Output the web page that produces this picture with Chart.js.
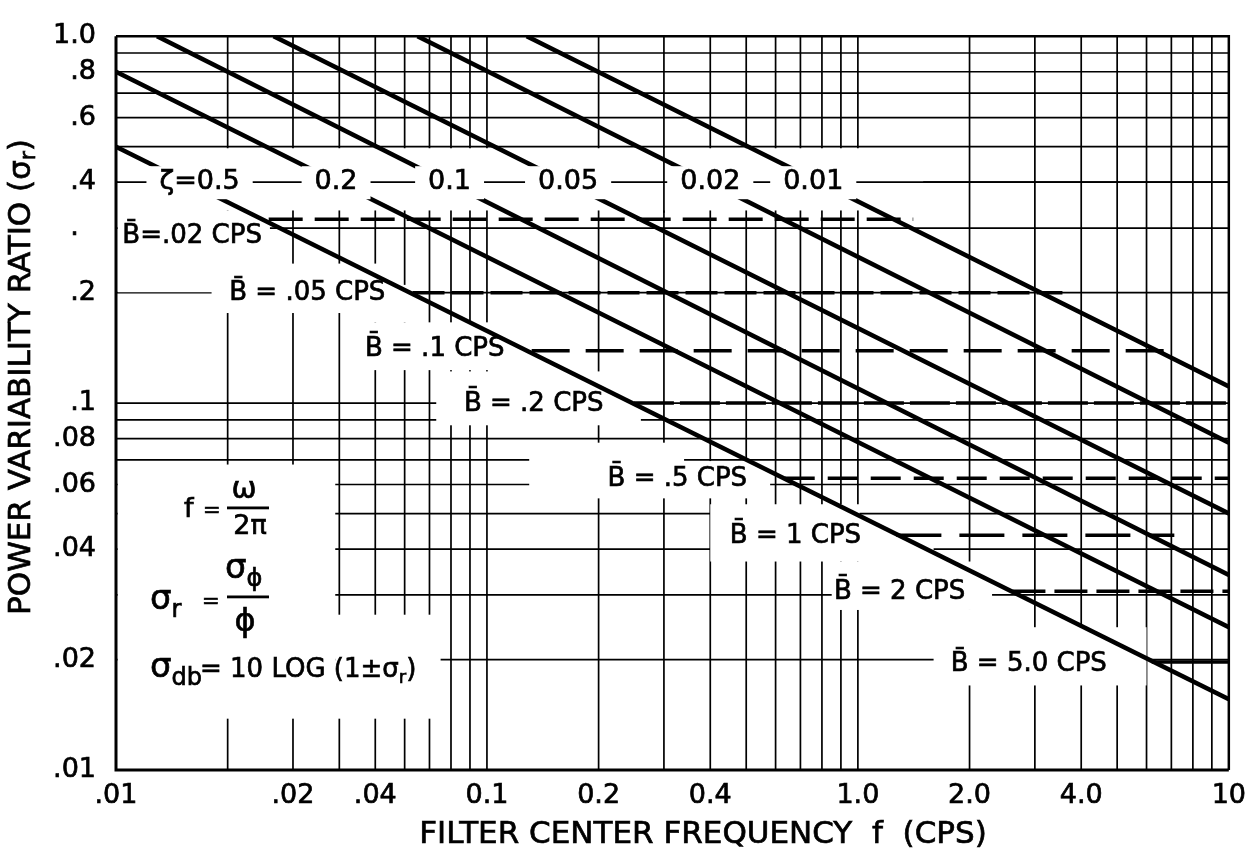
<!DOCTYPE html>
<html>
<head>
<meta charset="utf-8">
<title>Power variability ratio</title>
<script src="https://cdn.jsdelivr.net/npm/chart.js@4.4.1/dist/chart.umd.min.js"></script>
<style>
  html, body { margin: 0; padding: 0; background: #fff; }
  canvas { display: block; }
</style>
</head>
<body>
<canvas id="powerChart" width="1256" height="855"></canvas>
<script>
// Axis ticks
const xTickValues = [0.01, 0.03, 0.05, 0.1, 0.2, 0.4, 1, 2, 4, 10]
const xTickLabels = [".01", ".02", ".04", "0.1", "0.2", "0.4", "1.0", "2.0", "4.0", "10"]
const yTickValues = [0.01, 0.02, 0.04, 0.06, 0.08, 0.1, 0.2, 0.3, 0.4, 0.6, 0.8, 1]
const yTickLabels = [".01", ".02", ".04", ".06", ".08", ".1", ".2", ".\u2007", ".4", ".6", ".8", "1.0"]

// Log paper grid
const gridFreqs = [0.02, 0.03, 0.04, 0.05, 0.06, 0.07, 0.08, 0.09, 0.1, 0.2, 0.3, 0.4, 0.5, 0.6, 0.7, 0.8, 0.9, 1, 2, 3, 4, 5, 6, 7, 8, 9]
const gridRatios = [0.02, 0.03, 0.04, 0.05, 0.06, 0.07, 0.08, 0.09, 0.1, 0.2, 0.3, 0.4, 0.5, 0.6, 0.7, 0.8, 0.9]

// Damping ratio lines, end points
const zetaNames = ["ζ=0.5", "0.2", "0.1", "0.05", "0.02", "0.01"]
const zetaStartFreq = [0.01, 0.01, 0.0129, 0.0266, 0.065, 0.128]
const zetaStartRatio = [0.5, 0.8, 1.0, 1.0, 1.0, 1.0]
const zetaEndFreq = [10, 10, 10, 10, 10, 10]
const zetaEndRatio = [0.0156, 0.0245, 0.034, 0.05, 0.078, 0.111]
const zetaLabelFreq = [0.0168, 0.0392, 0.0793, 0.1655, 0.4, 0.758]
const zetaLabelRatio = 0.4

// Bandwidth levels
const bandNames = ["B\u0304=.02 CPS", "B\u0304 = .05 CPS", "B\u0304 = .1 CPS", "B\u0304 = .2 CPS", "B\u0304 = .5 CPS", "B\u0304 = 1 CPS", "B\u0304 = 2 CPS", "B\u0304 = 5.0 CPS"]
const bandRatio = [0.317, 0.2, 0.139, 0.1, 0.0624, 0.0436, 0.0307, 0.0197]
const bandFromFreq = [0.0258, 0.063, 0.132, 0.249, 0.635, 1.27, 2.61, 6.2]
const bandToFreq = [1.41, 3.56, 7.0, 10, 10, 7.13, 10, 10]
const bandLabelFreq = [0.0104, 0.0202, 0.0469, 0.0867, 0.2114, 0.4515, 0.862, 1.78]
const bandLabelRatio = [0.286, 0.2, 0.141, 0.1, 0.0624, 0.0436, 0.0307, 0.0195]

// Parts of the paper left without grid (freq from, freq to, ratio from, ratio to)
const blankAreas = [
  [0.0101, 1.5, 0.335, 0.495],
  [0.0101, 0.026, 0.2005, 0.335],
  [0.0181, 0.058, 0.176, 0.24],
  [0.045, 0.065, 0.166, 0.21],
  [0.045, 0.125, 0.123, 0.166],
  [0.073, 0.26, 0.087, 0.122],
  [0.13, 0.34, 0.055, 0.078],
  [0.34, 0.58, 0.055, 0.0695],
  [0.4, 1.01, 0.037, 0.053],
  [1.0, 1.6, 0.037, 0.047],
  [0.85, 2.3, 0.0273, 0.037],
  [1.6, 2.3, 0.017, 0.0273],
  [2.3, 6.0, 0.017, 0.0245],
  [0.0101, 0.039, 0.0138, 0.068],
  [0.039, 0.075, 0.0138, 0.0265],
]

const bandDash = [[34, 12], [32, 7], [38, 16], [40, 6], [30, 13], [45, 18], [33, 9], []]

const FONT = "\"DejaVu Sans\", sans-serif"
const INK = 0.7

function setFont(ctx, size) {
  ctx.font = `${size}px ${FONT}`
}

// draws text pieces side by side, "sub" pieces lowered and smaller
function drawParts(ctx, parts, x, y, size) {
  let cx = x
  parts.forEach(([text, kind]) => {
    const sub = kind === "sub"
    setFont(ctx, sub ? Math.round(size * 0.7) : size)
    const ty = sub ? y + size * 0.24 : y
    ctx.fillText(text, cx, ty)
    ctx.strokeText(text, cx, ty)
    cx += ctx.measureText(text).width
  })
  return cx - x
}

function partsWidth(ctx, parts, size) {
  let w = 0
  parts.forEach(([text, kind]) => {
    setFont(ctx, kind === "sub" ? Math.round(size * 0.7) : size)
    w += ctx.measureText(text).width
  })
  return w
}

function say(ctx, text, x, y, size, align) {
  setFont(ctx, size)
  ctx.textAlign = align || "left"
  ctx.fillText(text, x, y)
  ctx.strokeText(text, x, y)
}

const paperPlugin = {
  id: "paper",
  beforeDatasetsDraw(chart) {
    const { ctx, chartArea: a } = chart
    const xs = chart.scales.x
    const ys = chart.scales.y
    ctx.save()
    ctx.strokeStyle = "#000"
    ctx.lineWidth = 1.7
    ctx.beginPath()
    gridFreqs.forEach((v) => {
      const px = xs.getPixelForValue(v)
      ctx.moveTo(px, a.top)
      ctx.lineTo(px, a.bottom)
    })
    gridRatios.forEach((v) => {
      const py = ys.getPixelForValue(v)
      ctx.moveTo(a.left, py)
      ctx.lineTo(a.right, py)
    })
    ctx.stroke()

    // white out the label areas
    ctx.fillStyle = "#fff"
    blankAreas.forEach(([f0, f1, r0, r1]) => {
      const x0 = xs.getPixelForValue(f0)
      const x1 = xs.getPixelForValue(f1)
      const y0 = ys.getPixelForValue(r1)
      const y1 = ys.getPixelForValue(r0)
      ctx.fillRect(x0, y0, x1 - x0, y1 - y0)
    })

    // lines that cross the ζ label row
    ctx.beginPath()
    const y4 = ys.getPixelForValue(0.4)
    ctx.moveTo(a.left, y4)
    ctx.lineTo(a.right, y4)
    const x3 = xs.getPixelForValue(0.3)
    ctx.moveTo(x3, ys.getPixelForValue(0.5))
    ctx.lineTo(x3, ys.getPixelForValue(0.33))
    ctx.stroke()

    // frame
    ctx.lineWidth = 3
    ctx.beginPath()
    ctx.moveTo(a.left, a.top)
    ctx.lineTo(a.left, a.bottom)
    ctx.lineTo(a.right, a.bottom)
    ctx.stroke()
    ctx.lineWidth = 2.5
    ctx.beginPath()
    ctx.moveTo(a.left, a.top)
    ctx.lineTo(a.right, a.top)
    ctx.lineTo(a.right, a.bottom)
    ctx.stroke()
    ctx.restore()
  },
  afterDatasetsDraw(chart) {
    const { ctx } = chart
    const xs = chart.scales.x
    const ys = chart.scales.y
    ctx.save()
    ctx.textBaseline = "middle"
    ctx.strokeStyle = "#000"
    ctx.lineWidth = INK

    // ζ labels sit in white gaps on the 0.4 line
    const zy = ys.getPixelForValue(zetaLabelRatio)
    zetaNames.forEach((name, i) => {
      const zx = xs.getPixelForValue(zetaLabelFreq[i])
      setFont(ctx, 27)
      const w = ctx.measureText(name).width
      ctx.fillStyle = "#fff"
      ctx.fillRect(zx - w / 2 - 13, zy - 16, w + 26, 33)
      ctx.fillStyle = "#000"
      say(ctx, name, zx, zy, 27, "center")
    })

    // bandwidth labels
    ctx.fillStyle = "#000"
    bandNames.forEach((name, i) => {
      say(ctx, name, xs.getPixelForValue(bandLabelFreq[i]), ys.getPixelForValue(bandLabelRatio[i]) + 1, 26, "left")
    })

    // formulas, lower left
    ctx.textBaseline = "alphabetic"
    ctx.textAlign = "left"
    say(ctx, "f", 184, 517, 27)
    say(ctx, "=", 203, 517, 21)
    say(ctx, "ω", 244, 498, 30, "center")
    ctx.fillRect(227, 506.5, 42, 2.8)
    say(ctx, "2π", 250, 534, 27, "center")

    ctx.textAlign = "left"
    drawParts(ctx, [["σ"], ["r", "sub"]], 150, 609, 34)
    say(ctx, "=", 202, 608, 21)
    ctx.fillRect(227, 595.5, 42, 2.8)
    ctx.textAlign = "left"
    drawParts(ctx, [["σ"], ["ϕ", "sub"]], 225, 578, 34)
    say(ctx, "ϕ", 245, 631, 32, "center")

    ctx.textAlign = "left"
    let cx = 150
    cx += drawParts(ctx, [["σ"], ["db", "sub"]], cx, 677, 34)
    drawParts(ctx, [["= 10 LOG (1±σ"], ["r", "sub"], [")"]], cx - 2, 677, 26)
    ctx.restore()
  },
  afterDraw(chart) {
    const { ctx } = chart
    ctx.save()
    ctx.fillStyle = "#000"
    ctx.strokeStyle = "#000"
    ctx.lineWidth = INK
    ctx.textBaseline = "middle"
    ctx.textAlign = "left"

    const xTitle = [["FILTER CENTER FREQUENCY  f  (CPS)"]]
    const xw = partsWidth(ctx, xTitle, 31)
    drawParts(ctx, xTitle, 703 - xw / 2, 835, 31)

    const yTitle = [["POWER VARIABILITY RATIO (σ"], ["r", "sub"], [")"]]
    ctx.translate(22, 377)
    ctx.rotate(-Math.PI / 2)
    const yw = partsWidth(ctx, yTitle, 31)
    drawParts(ctx, yTitle, -yw / 2, 0, 31)
    ctx.restore()
  },
}

const zetaSets = zetaNames.map((name, i) => ({
  label: name,
  data: [
    { x: zetaStartFreq[i], y: zetaStartRatio[i] },
    { x: zetaEndFreq[i], y: zetaEndRatio[i] },
  ],
  showLine: true,
  borderColor: "#000",
  borderWidth: 4.5,
  pointRadius: 0,
  tension: 0,
}))

const bandSets = bandNames.map((name, i) => ({
  label: name,
  data: [
    { x: bandFromFreq[i], y: bandRatio[i] },
    { x: bandToFreq[i], y: bandRatio[i] },
  ],
  showLine: true,
  borderColor: "#000",
  borderWidth: 3.5,
  borderDash: bandDash[i],
  pointRadius: 0,
  tension: 0,
}))

Chart.defaults.font.family = FONT
Chart.defaults.color = "#000"

new Chart(document.getElementById("powerChart"), {
  type: "scatter",
  data: { datasets: [...zetaSets, ...bandSets] },
  options: {
    responsive: false,
    animation: false,
    devicePixelRatio: 1,
    layout: { padding: { top: 20, right: 19, left: 0, bottom: 0 } },
    plugins: {
      legend: { display: false },
      tooltip: { enabled: false },
    },
    scales: {
      x: {
        type: "logarithmic",
        min: 0.01,
        max: 10,
        grid: { display: false, drawTicks: false },
        border: { display: false },
        afterBuildTicks: (scale) => {
          scale.ticks = xTickValues.map((v) => ({ value: v }))
        },
        afterFit: (scale) => {
          scale.height = 85
        },
        ticks: {
          autoSkip: false,
          maxRotation: 0,
          minRotation: 0,
          padding: 10,
          color: "#000",
          textStrokeColor: "#000",
          textStrokeWidth: INK,
          font: { size: 27 },
          callback: (value, index) => xTickLabels[index],
        },
      },
      y: {
        type: "logarithmic",
        min: 0.01,
        max: 1,
        grid: { display: false, drawTicks: false },
        border: { display: false },
        afterBuildTicks: (scale) => {
          scale.ticks = yTickValues.map((v) => ({ value: v }))
        },
        afterFit: (scale) => {
          scale.width = 116
        },
        ticks: {
          autoSkip: false,
          padding: 20,
          color: "#000",
          textStrokeColor: "#000",
          textStrokeWidth: INK,
          font: { size: 27 },
          callback: (value, index) => yTickLabels[index],
        },
      },
    },
  },
  plugins: [paperPlugin],
})
</script>
</body>
</html>
